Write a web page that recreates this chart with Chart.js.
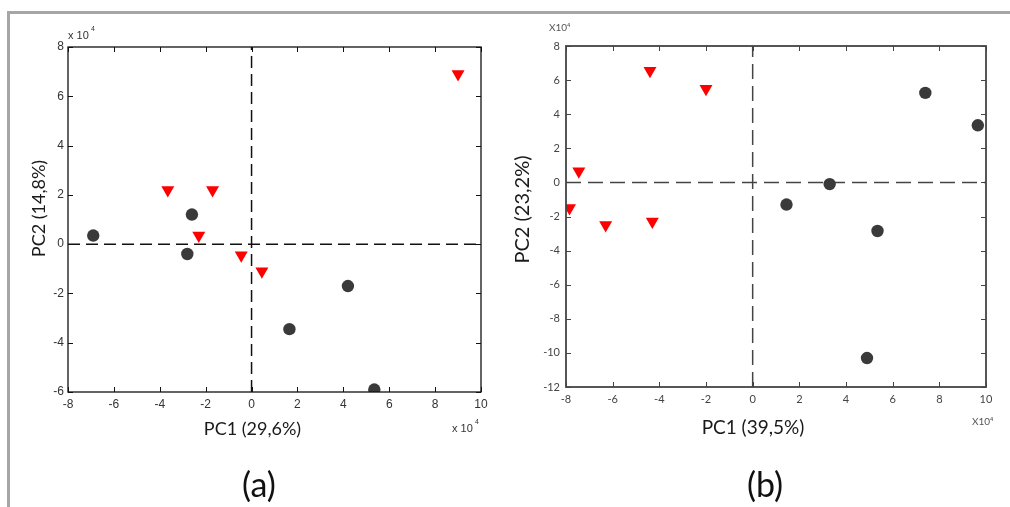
<!DOCTYPE html>
<html>
<head>
<meta charset="utf-8">
<script src="https://cdn.jsdelivr.net/npm/chart.js@4.4.0/dist/chart.umd.min.js"></script>
<style>
  body { margin:0; background:#fff; width:1010px; height:507px; overflow:hidden; position:relative; }
  #frame { position:absolute; left:7px; top:11px; width:1010px; height:510px; border-top:3px solid #a6a6a6; border-left:3px solid #a6a6a6; }
  canvas { position:absolute; top:0; }
  .lbl { position:absolute; font-family: Lato, sans-serif; font-size:34px; color:#111; transform: translate(-50%,-50%); }
</style>
</head>
<body>
<div id="frame"></div>
<canvas id="chartA" width="500" height="470" style="left:0"></canvas>
<canvas id="chartB" width="510" height="470" style="left:500px"></canvas>
<div class="lbl" style="left:259px;top:483px">(a)</div>
<div class="lbl" style="left:765px;top:483px">(b)</div>
<script>
// PCA scores, units of 10^4
// (a)
const circlesAX = [-6.9, -2.6, -2.8, 4.2, 1.65, 5.35];
const circlesAY = [0.35, 1.2, -0.4, -1.7, -3.45, -5.9];
const trianglesAX = [-3.65, -1.7, -2.3, -0.45, 0.45, 9.0];
const trianglesAY = [2.2, 2.2, 0.35, -0.45, -1.1, 6.9];
// (b)
const circlesBX = [1.45, 3.3, 5.35, 7.4, 9.65, 4.9];
const circlesBY = [-1.3, -0.1, -2.85, 5.25, 3.35, -10.3];
const trianglesBX = [-4.4, -2.0, -7.45, -7.85, -6.3, -4.3];
const trianglesBY = [6.55, 5.5, 0.65, -1.5, -2.5, -2.3];

// ticks
const xTicks = [-8, -6, -4, -2, 0, 2, 4, 6, 8, 10];
const yTicksA = [-6, -4, -2, 0, 2, 4, 6, 8];
const yTicksB = [-12, -10, -8, -6, -4, -2, 0, 2, 4, 6, 8];

function pts(xs, ys) {
  return xs.map((v, i) => ({x: v, y: ys[i]}));
}

// box, inward ticks, titles and the x10^4 notes
const decor = {
  id: 'decor',
  afterDraw(chart, args, o) {
    const ctx = chart.ctx, a = chart.chartArea;
    const x = chart.scales.x, y = chart.scales.y;
    ctx.save();
    ctx.strokeStyle = o.axisColor;
    ctx.lineWidth = o.axisWidth;
    ctx.strokeRect(a.left, a.top, a.right - a.left, a.bottom - a.top);
    ctx.beginPath();
    x.ticks.forEach(t => {
      const px = Math.round(x.getPixelForValue(t.value)) + 0.5;
      ctx.moveTo(px, a.bottom); ctx.lineTo(px, a.bottom - o.tickLen);
      ctx.moveTo(px, a.top); ctx.lineTo(px, a.top + o.tickLen);
    });
    y.ticks.forEach(t => {
      const py = Math.round(y.getPixelForValue(t.value)) + 0.5;
      ctx.moveTo(a.left, py); ctx.lineTo(a.left + o.tickLen, py);
      ctx.moveTo(a.right, py); ctx.lineTo(a.right - o.tickLen, py);
    });
    ctx.lineWidth = 1;
    ctx.stroke();

    const cx = (a.left + a.right) / 2, cy = (a.top + a.bottom) / 2;
    ctx.fillStyle = '#1a1a1a';
    ctx.textAlign = 'center';
    ctx.textBaseline = 'middle';
    ctx.font = o.xTitleFont;
    ctx.fillText(o.xTitle, cx + o.xTitlePos[0], a.bottom + o.xTitlePos[1]);
    ctx.save();
    ctx.font = o.yTitleFont;
    ctx.translate(a.left + o.yTitlePos[0], cy + o.yTitlePos[1]);
    ctx.rotate(-Math.PI / 2);
    ctx.fillText(o.yTitle, 0, 0);
    ctx.restore();

    ctx.textAlign = 'left';
    ctx.textBaseline = 'alphabetic';
    ctx.fillStyle = o.noteColor;
    o.notes.forEach(n => {
      ctx.font = n.font;
      ctx.fillText(n.text, n.x, n.y);
    });
    ctx.restore();
  }
};

function makeChart(id, s) {
  new Chart(document.getElementById(id), {
    type: 'scatter',
    data: {
      datasets: [
        {
          data: pts(s.cx, s.cy),
          pointStyle: 'circle', pointRadius: 6.2, pointHoverRadius: 6.2,
          backgroundColor: '#3a3a3a', borderColor: '#3a3a3a', borderWidth: 0
        },
        {
          data: pts(s.tx, s.ty),
          pointStyle: 'triangle', rotation: 180, pointRadius: 7.5, pointHoverRadius: 7.5,
          backgroundColor: '#ff0000', borderColor: '#ff0000', borderWidth: 0
        },
        {
          data: [{x: 0, y: s.yTicks[0]}, {x: 0, y: s.yTicks[s.yTicks.length - 1]}],
          showLine: true, pointRadius: 0, borderColor: s.dashColor, borderWidth: 1.5, borderDash: s.dash
        },
        {
          data: [{x: xTicks[0], y: 0}, {x: xTicks[xTicks.length - 1], y: 0}],
          showLine: true, pointRadius: 0, borderColor: s.dashColor, borderWidth: 1.5, borderDash: s.dash
        }
      ]
    },
    options: {
      responsive: false,
      animation: false,
      devicePixelRatio: 1,
      layout: { padding: s.padding },
      plugins: {
        legend: { display: false },
        tooltip: { enabled: false },
        decor: s.decor
      },
      scales: {
        x: {
          min: xTicks[0], max: xTicks[xTicks.length - 1],
          afterBuildTicks: sc => { sc.ticks = xTicks.map(v => ({value: v})); },
          afterFit: sc => { sc.height = 30; },
          grid: { display: false, drawTicks: false },
          border: { display: false },
          ticks: { padding: s.xPad, color: s.tickColor, font: s.tickFont, maxRotation: 0, autoSkip: false }
        },
        y: {
          min: s.yTicks[0], max: s.yTicks[s.yTicks.length - 1],
          afterBuildTicks: sc => { sc.ticks = s.yTicks.map(v => ({value: v})); },
          afterFit: sc => { sc.width = s.yWidth; },
          grid: { display: false, drawTicks: false },
          border: { display: false },
          ticks: { padding: s.yPad, color: s.tickColor, font: s.tickFont, autoSkip: false }
        }
      }
    },
    plugins: [decor]
  });
}

makeChart('chartA', {
  cx: circlesAX, cy: circlesAY, tx: trianglesAX, ty: trianglesAY,
  yTicks: yTicksA,
  padding: { left: 0, top: 47, right: 19, bottom: 48 },
  yWidth: 68, xPad: 5, yPad: 4,
  tickColor: '#333', tickFont: { family: '"Liberation Sans", Arial, sans-serif', size: 12 },
  dashColor: '#111', dash: [12, 6],
  decor: {
    axisColor: '#111', axisWidth: 1.3, tickLen: 5,
    xTitle: 'PC1 (29,6%)', xTitleFont: '18px Lato, sans-serif', xTitlePos: [-22, 37],
    yTitle: 'PC2 (14,8%)', yTitleFont: '18px Lato, sans-serif', yTitlePos: [-29, -11],
    noteColor: '#333',
    notes: [
      { text: 'x 10', x: 68, y: 39, font: '11px "Liberation Sans", Arial, sans-serif' },
      { text: '4', x: 91, y: 31, font: '7px "Liberation Sans", Arial, sans-serif' },
      { text: 'x 10', x: 452, y: 432, font: '11px "Liberation Sans", Arial, sans-serif' },
      { text: '4', x: 475, y: 424, font: '7px "Liberation Sans", Arial, sans-serif' }
    ]
  }
});

makeChart('chartB', {
  cx: circlesBX, cy: circlesBY, tx: trianglesBX, ty: trianglesBY,
  yTicks: yTicksB,
  padding: { left: 0, top: 46, right: 24, bottom: 53 },
  yWidth: 66, xPad: 6, yPad: 6,
  tickColor: '#444', tickFont: { family: 'Lato, sans-serif', size: 11 },
  dashColor: '#444', dash: [15, 7],
  decor: {
    axisColor: '#444', axisWidth: 1.8, tickLen: 5,
    xTitle: 'PC1 (39,5%)', xTitleFont: '19px Lato, sans-serif', xTitlePos: [-23, 41],
    yTitle: 'PC2 (23,2%)', yTitleFont: '20px Lato, sans-serif', yTitlePos: [-43, -7],
    noteColor: '#555',
    notes: [
      { text: 'X10\u2074', x: 49, y: 31, font: '10px Lato, sans-serif' },
      { text: 'X10\u2074', x: 472, y: 425, font: '10px Lato, sans-serif' }
    ]
  }
});
</script>
</body>
</html>
